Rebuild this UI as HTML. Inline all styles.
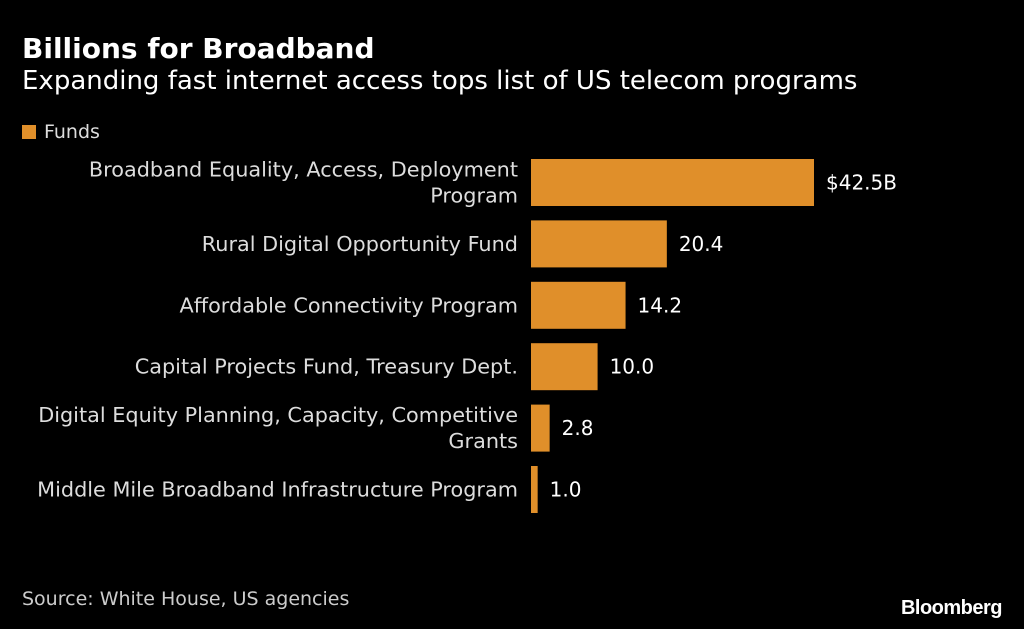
<!DOCTYPE html>
<html><head><meta charset="utf-8">
<style>
body{margin:0;background:#000;width:1024px;height:629px;overflow:hidden;font-family:"DejaVu Sans","Liberation Sans",sans-serif;color:#fff}
.t{position:absolute;white-space:nowrap}
</style></head><body>
<div class="t" style="left:22px;top:32px;font-size:28px;font-weight:bold">Billions for Broadband</div>
<div class="t" style="left:22px;top:66px;font-size:26px">Expanding fast internet access tops list of US telecom programs</div>
<div class="t" style="left:22px;top:121px;font-size:19px;color:#ddd"><span style="display:inline-block;width:14px;height:14px;background:#e08f2a;margin-right:8px;vertical-align:-1px"></span>Funds</div>
<svg id="c" width="1024" height="629" style="position:absolute;left:0;top:0"></svg>
<div class="t" style="left:22px;top:588px;font-size:19px;color:#ccc">Source: White House, US agencies</div>
<div class="t" style="right:22px;top:597px;font-size:20px;font-weight:bold;font-family:'Liberation Sans',sans-serif;letter-spacing:-0.5px">Bloomberg</div>
<script>
const categories=[["Broadband Equality, Access, Deployment","Program"],["Rural Digital Opportunity Fund"],["Affordable Connectivity Program"],["Capital Projects Fund, Treasury Dept."],["Digital Equity Planning, Capacity, Competitive","Grants"],["Middle Mile Broadband Infrastructure Program"]];
const values=[42.5,20.4,14.2,10.0,2.8,1.0];
const valueLabels=["$42.5B","20.4","14.2","10.0","2.8","1.0"];
const svg=document.getElementById('c');
const NS='http://www.w3.org/2000/svg';
const x0=531,scale=283/42.5;
function xPos(v){return x0+v*scale;}
function yPos(i){return 159+i*61.4;}
const bh=47;
values.forEach((v,i)=>{
  const r=document.createElementNS(NS,'rect');
  r.setAttribute('x',x0);r.setAttribute('y',yPos(i));
  r.setAttribute('width',xPos(v)-x0);r.setAttribute('height',bh);
  r.setAttribute('fill','#e08f2a');
  
  
  svg.appendChild(r);
  const t=document.createElementNS(NS,'text');
  t.setAttribute('x',xPos(v)+12);t.setAttribute('y',yPos(i)+bh/2+7);
  t.setAttribute('fill','#fff');t.setAttribute('font-size','20');
  t.textContent=valueLabels[i];
  
  
  svg.appendChild(t);
  const lines=categories[i];
  const l=document.createElementNS(NS,'text');
  l.setAttribute('text-anchor','end');l.setAttribute('fill','#ddd');l.setAttribute('font-size','20.8');
  
  
  const startY=yPos(i)+bh/2+7-(lines.length-1)*13;
  lines.forEach((s,j)=>{
    const ts=document.createElementNS(NS,'tspan');
    ts.setAttribute('x',518);ts.setAttribute('y',startY+j*26);
    ts.textContent=s;l.appendChild(ts);
  });
  svg.appendChild(l);
});
</script>
</body></html>
